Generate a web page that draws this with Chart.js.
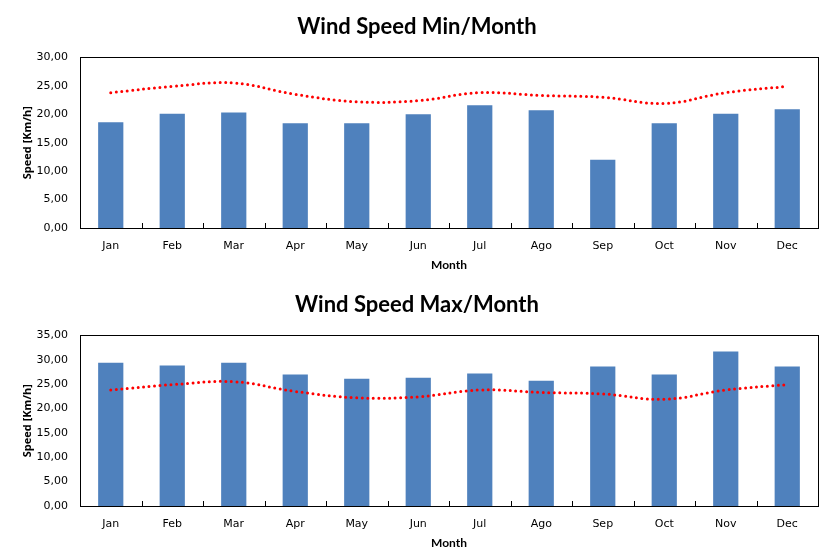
<!DOCTYPE html>
<html>
<head>
<meta charset="utf-8">
<script src="https://cdn.jsdelivr.net/npm/chart.js@4.4.0/dist/chart.umd.min.js"></script>
<style>
  html, body { margin: 0; padding: 0; background: #fff; overflow: hidden; }
  .box { position: relative; width: 834px; height: 278px; }
</style>
</head>
<body>
<div class="box"><canvas id="minChart"></canvas></div>
<div class="box"><canvas id="maxChart"></canvas></div>
<script>
// datos
const months = ['Jan', 'Feb', 'Mar', 'Apr', 'May', 'Jun', 'Jul', 'Ago', 'Sep', 'Oct', 'Nov', 'Dec'];
const minSpeed = [18.6, 20.1, 20.3, 18.4, 18.4, 20.0, 21.6, 20.7, 12.0, 18.4, 20.1, 20.9];
const maxSpeed = [29.4, 28.8, 29.4, 27.0, 26.1, 26.3, 27.2, 25.7, 28.6, 27.0, 31.7, 28.6];
const avgSpeed = [23.8, 24.9, 25.5, 23.5, 22.2, 22.4, 23.8, 23.3, 23.0, 21.9, 23.8, 24.9];
const minTicks = [0, 5, 10, 15, 20, 25, 30];
const maxTicks = [0, 5, 10, 15, 20, 25, 30, 35];

// marco del área y marcas entre categorías
const frame = {
    id: 'frame',
    afterDraw(chart) {
        const { ctx, chartArea: a } = chart;
        const x = chart.scales.x;
        ctx.save();
        ctx.strokeStyle = '#000';
        ctx.lineWidth = 1;
        ctx.strokeRect(Math.round(a.left) + 0.5, Math.round(a.top) + 0.5,
            Math.round(a.right - a.left), Math.round(a.bottom - a.top));
        ctx.beginPath();
        for (let i = 1; i < months.length; i++) {
            const px = Math.round((x.getPixelForValue(i - 1) + x.getPixelForValue(i)) / 2) + 0.5;
            ctx.moveTo(px, a.bottom);
            ctx.lineTo(px, a.bottom - 5);
        }
        ctx.stroke();
        ctx.restore();
    }
};

function buildChart(id, title, bars, ticks) {
    const canvas = document.getElementById(id);
    return new Chart(canvas.getContext('2d'), {
        data: {
            labels: months,
            datasets: [{
                type: 'line',
                data: avgSpeed,
                borderColor: '#ff0000',
                borderWidth: 3,
                borderDash: [0, 5.5],
                borderCapStyle: 'round',
                pointRadius: 0,
                tension: 0.4,
                fill: false
            }, {
                type: 'bar',
                data: bars,
                backgroundColor: '#4f81bd',
                categoryPercentage: 1,
                barPercentage: 0.41
            }]
        },
        options: {
            responsive: true,
            maintainAspectRatio: false,
            animation: false,
            layout: { padding: { left: 16, right: 16, top: 0, bottom: 0 } },
            plugins: {
                legend: { display: false },
                tooltip: { enabled: false },
                title: {
                    display: true,
                    text: title,
                    color: '#000',
                    font: { family: 'Lato', size: 22, weight: 'bold', lineHeight: 1.2 },
                    padding: { top: 14, bottom: 17 }
                }
            },
            scales: {
                x: {
                    grid: { display: false, drawTicks: false },
                    border: { display: false },
                    ticks: {
                        color: '#000',
                        padding: 12,
                        font: { family: 'DejaVu Sans', size: 11 }
                    },
                    title: {
                        display: true,
                        text: 'Month',
                        color: '#000',
                        font: { family: 'Lato', size: 12, weight: 'bold' },
                        padding: { top: 4, bottom: 6 }
                    },
                    afterFit(scale) { scale.height = 50; }
                },
                y: {
                    min: ticks[0],
                    max: ticks[ticks.length - 1],
                    afterBuildTicks(scale) { scale.ticks = ticks.map(v => ({ value: v })); },
                    grid: { display: false, drawTicks: false },
                    border: { display: false },
                    ticks: {
                        color: '#000',
                        padding: 12,
                        font: { family: 'DejaVu Sans', size: 11 },
                        callback: v => v.toFixed(2).replace('.', ',')
                    },
                    title: {
                        display: true,
                        text: 'Speed [Km/h]',
                        color: '#000',
                        font: { family: 'Open Sans', size: 11, weight: 'bold' },
                        padding: { top: 5, bottom: 0 }
                    },
                    afterFit(scale) { scale.width = 64; }
                }
            }
        },
        plugins: [frame]
    });
}

buildChart('minChart', 'Wind Speed Min/Month', minSpeed, minTicks);
buildChart('maxChart', 'Wind Speed Max/Month', maxSpeed, maxTicks);
</script>
</body>
</html>
